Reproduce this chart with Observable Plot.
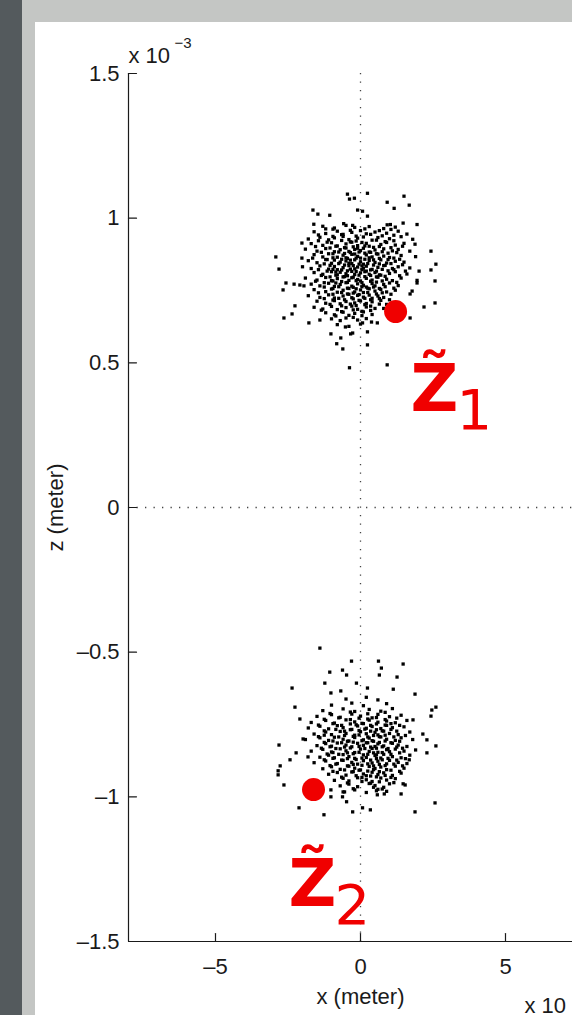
<!DOCTYPE html>
<html>
<head>
<meta charset="utf-8">
<script src="https://cdn.jsdelivr.net/npm/d3@7"></script>
<script src="https://cdn.jsdelivr.net/npm/@observablehq/plot@0.6"></script>
<style>
html, body { margin: 0; padding: 0; overflow: hidden; }
body { width: 572px; height: 1015px; background: #c4c6c4; position: relative; }
#strip { position: absolute; left: 0; top: 0; width: 22px; height: 1015px; background: #545a5d; }
#panel { position: absolute; left: 35px; top: 22px; width: 620px; height: 1000px; background: #ffffff; }
#chart { position: absolute; left: 35px; top: 22px; width: 620px; height: 993px; }
#chart svg { max-width: none !important; width: 597px; height: 993px; }
</style>
</head>
<body>
<div id="strip"></div>
<div id="panel"></div>
<div id="chart"></div>
<script>
// ---- axes ----
const xDomain = [-8, 8];
const zDomain = [-1.5, 1.5];
const xTicks = [-5, 0, 5];
const xTickLabels = ["–5", "0", "5"];
const zTicks = [-1.5, -1, -0.5, 0, 0.5, 1, 1.5];
const zTickLabels = ["–1.5", "–1", "–0.5", "0", "0.5", "1", "1.5"];
const xLabel = "x (meter)";
const zLabel = "z (meter)";
const zExponent = ["x 10", "−3"];
const xExponent = "x 10";

// ---- estimates (red markers) ----
const estimates = [
  {name: "1", x: 1.21, z: 0.677},
  {name: "2", x: -1.62, z: -0.975}
];
// label anchors (left edge / baseline of the "Z")
const estimateLabels = [
  {sub: "1", x: 1.72, z: 0.332},
  {sub: "2", x: -2.48, z: -1.376}
];

// ---- cluster around z = +0.8e-3 ----
const cluster1Outer = [
[-0.45,1.083],[-0.21,1.069],[0.24,1.086],[-0.38,1.066],[1.50,1.076],[0.92,1.055],[1.68,1.045],[1.16,1.034],[0.07,1.024],[-1.64,1.028],[-1.47,1.014],[-1.06,1.010],[0.24,1.007],[-0.10,1.028],[-1.20,0.963],[1.03,0.978],
[-1.61,0.979],[-0.58,0.981],[-0.27,0.975],[0.92,0.977],[1.47,0.983],[1.95,0.978],[-2.02,0.914],[1.88,0.910],[2.43,0.886],[-2.92,0.866],[-2.02,0.862],[2.60,0.841],[-2.81,0.824],[2.43,0.821],[2.02,0.817],
[-2.57,0.776],[-2.29,0.772],[-2.09,0.769],[-1.95,0.766],[-2.67,0.752],[2.57,0.783],[1.95,0.785],[1.78,0.748],[2.19,0.693],[2.57,0.707],[-2.26,0.697],[-2.64,0.655],[-2.36,0.669],[-1.78,0.638],[-1.40,0.648],[1.71,0.655],
[-1.02,0.600],[-0.68,0.586],[-0.82,0.566],[-0.61,0.548],[0.24,0.562],[-0.34,0.600],[0.92,0.493],[-0.38,0.483],[-0.52,0.624],[-0.27,0.603],[0.07,0.638],[0.24,0.607],[0.38,0.641],[0.58,0.638],[1.71,0.738],[1.95,0.776],
[0.9,0.702],[1.0,0.718],[0.8,0.688]
];
const cluster1Core = [
[-1.3,0.972],[-0.9,0.966],[-0.5,0.975],[-0.2,0.968],[0.3,0.971],[0.8,0.964],[1.2,0.969],
[-1.6,0.953],[-1.2,0.947],[-0.8,0.955],[-0.6,0.944],[-0.3,0.951],[0.0,0.957],[0.2,0.946],[0.5,0.952],[0.9,0.948],[1.3,0.955],[1.6,0.945],
[-1.8,0.928],[-1.4,0.934],[-1.1,0.925],[-0.9,0.932],[-0.6,0.937],[-0.4,0.926],[-0.1,0.931],[0.1,0.935],[0.4,0.924],[0.6,0.933],[1.0,0.929],[1.4,0.936],[1.8,0.927],
[-1.7,0.912],[-1.3,0.906],[-1.0,0.915],[-0.8,0.904],[-0.5,0.911],[-0.3,0.917],[-0.1,0.905],[0.2,0.913],[0.3,0.903],[0.7,0.909],[0.9,0.916],[1.2,0.907],[1.5,0.913],
[-1.9,0.893],[-1.5,0.886],[-1.2,0.895],[-0.9,0.884],[-0.7,0.891],[-0.5,0.897],[-0.4,0.885],[-0.2,0.892],[0.0,0.888],[0.1,0.896],[0.3,0.883],[0.5,0.89],[0.8,0.894],[1.1,0.887],[1.3,0.892],[1.7,0.886],
[-1.6,0.874],[-1.3,0.866],[-1.1,0.877],[-0.8,0.865],[-0.6,0.872],[-0.5,0.863],[-0.3,0.875],[-0.1,0.868],[0.0,0.862],[0.2,0.873],[0.4,0.866],[0.6,0.876],[0.8,0.869],[1.0,0.864],[1.4,0.871],[1.9,0.867],
[-1.8,0.853],[-1.5,0.846],[-1.2,0.857],[-1.0,0.844],[-0.9,0.855],[-0.7,0.848],[-0.5,0.852],[-0.3,0.843],[-0.2,0.856],[0.0,0.849],[0.1,0.841],[0.3,0.854],[0.5,0.847],[0.7,0.856],[0.9,0.845],[1.2,0.851],[1.5,0.848],
[-2.0,0.832],[-1.7,0.826],[-1.4,0.835],[-1.1,0.824],[-0.9,0.833],[-0.8,0.822],[-0.6,0.829],[-0.4,0.836],[-0.2,0.825],[-0.1,0.831],[0.1,0.827],[0.2,0.834],[0.4,0.823],[0.6,0.83],[0.8,0.836],[1.1,0.826],[1.3,0.832],[1.7,0.828],
[-1.6,0.812],[-1.3,0.806],[-1.0,0.815],[-0.8,0.804],[-0.7,0.813],[-0.5,0.808],[-0.3,0.816],[-0.2,0.805],[0.0,0.811],[0.2,0.817],[0.3,0.806],[0.5,0.812],[0.7,0.803],[1.0,0.809],[1.2,0.815],[1.6,0.807],
[-1.9,0.793],[-1.5,0.786],[-1.2,0.795],[-1.0,0.784],[-0.8,0.791],[-0.6,0.797],[-0.4,0.785],[-0.3,0.794],[-0.1,0.788],[0.0,0.783],[0.2,0.792],[0.4,0.786],[0.6,0.796],[0.9,0.789],[1.1,0.784],[1.4,0.793],
[-1.7,0.772],[-1.4,0.766],[-1.1,0.775],[-0.9,0.764],[-0.7,0.771],[-0.5,0.777],[-0.3,0.765],[-0.1,0.773],[0.1,0.768],[0.2,0.762],[0.4,0.774],[0.5,0.766],[0.8,0.771],[1.0,0.776],[1.3,0.767],
[-1.6,0.753],[-1.2,0.746],[-1.0,0.755],[-0.8,0.744],[-0.6,0.751],[-0.4,0.757],[-0.2,0.745],[0.0,0.752],[0.1,0.743],[0.3,0.756],[0.5,0.748],[0.7,0.754],[0.9,0.745],[1.2,0.751],
[-1.8,0.732],[-1.4,0.726],[-1.1,0.735],[-0.9,0.724],[-0.6,0.731],[-0.4,0.737],[-0.3,0.725],[-0.1,0.733],[0.1,0.727],[0.3,0.734],[0.4,0.723],[0.6,0.731],[0.8,0.726],
[-1.5,0.713],[-1.2,0.706],[-0.9,0.715],[-0.7,0.704],[-0.5,0.712],[-0.2,0.707],[0.0,0.714],[0.2,0.705],[0.4,0.711],[0.7,0.716],
[-1.6,0.692],[-1.3,0.686],[-1.0,0.695],[-0.8,0.684],[-0.5,0.691],[-0.3,0.696],[-0.1,0.685],[0.2,0.693],[0.5,0.688],
[-1.2,0.673],[-0.9,0.666],[-0.6,0.675],[-0.4,0.664],[-0.2,0.671],[0.1,0.676],[0.4,0.667],
[-1.0,0.652],[-0.7,0.646],[-0.5,0.655],[-0.1,0.648],[0.2,0.653],
[-0.8,0.632],[-0.4,0.626],[0.0,0.634],
[-0.95,0.962],[-0.35,0.958],[0.15,0.963],[0.65,0.957],[1.05,0.961],
[-1.45,0.942],[-0.95,0.937],[-0.65,0.943],[-0.15,0.938],[0.35,0.944],[0.75,0.939],[1.15,0.941],
[-1.45,0.922],[-1.15,0.917],[-0.65,0.923],[-0.35,0.918],[-0.15,0.921],[0.05,0.916],[0.55,0.924],[0.85,0.919],[1.15,0.922],
[-1.55,0.902],[-1.05,0.897],[-0.85,0.903],[-0.55,0.898],[-0.25,0.901],[-0.1,0.896],[0.15,0.904],[0.45,0.899],[0.65,0.902],[1.05,0.898],[1.45,0.903],
[-1.35,0.882],[-0.95,0.877],[-0.75,0.883],[-0.55,0.878],[-0.35,0.881],[-0.2,0.876],[-0.05,0.883],[0.15,0.879],[0.35,0.882],[0.55,0.877],[0.75,0.884],[0.95,0.879],[1.25,0.881],
[-1.65,0.862],[-1.15,0.857],[-0.95,0.863],[-0.65,0.858],[-0.45,0.861],[-0.35,0.855],[-0.15,0.862],[0.15,0.858],[0.3,0.863],[0.45,0.856],[0.65,0.861],[0.95,0.857],[1.15,0.862],[1.35,0.858],
[-1.25,0.842],[-1.05,0.837],[-0.75,0.843],[-0.55,0.838],[-0.4,0.844],[-0.25,0.836],[-0.05,0.841],[0.05,0.835],[0.25,0.843],[0.45,0.838],[0.65,0.842],[0.85,0.837],[1.05,0.843],[1.45,0.839],
[-1.45,0.822],[-1.15,0.817],[-0.95,0.823],[-0.85,0.814],[-0.65,0.821],[-0.45,0.818],[-0.35,0.824],[-0.15,0.816],[0.05,0.822],[0.15,0.815],[0.35,0.821],[0.55,0.817],[0.75,0.823],[0.95,0.818],[1.15,0.822],[1.55,0.817],
[-1.35,0.802],[-1.05,0.797],[-0.85,0.803],[-0.55,0.798],[-0.45,0.801],[-0.25,0.796],[-0.05,0.803],[0.15,0.798],[0.35,0.802],[0.55,0.797],[0.65,0.804],[0.85,0.799],[1.35,0.801],
[-1.55,0.782],[-1.25,0.777],[-0.95,0.783],[-0.85,0.776],[-0.65,0.781],[-0.45,0.778],[-0.15,0.784],[0.05,0.777],[0.35,0.782],[0.55,0.779],[0.75,0.783],[1.25,0.778],
[-1.25,0.762],[-0.95,0.757],[-0.75,0.763],[-0.45,0.758],[-0.25,0.761],[-0.15,0.756],[0.05,0.763],[0.25,0.758],[0.45,0.762],[0.65,0.757],[0.85,0.763],[1.15,0.758],
[-1.45,0.742],[-0.95,0.737],[-0.65,0.743],[-0.45,0.738],[-0.25,0.741],[-0.05,0.736],[0.25,0.743],[0.55,0.738],[0.75,0.742],[1.05,0.737],
[-1.25,0.722],[-0.95,0.717],[-0.75,0.723],[-0.55,0.718],[-0.25,0.721],[-0.05,0.716],[0.15,0.723],[0.35,0.718],[0.65,0.722],
[-1.05,0.702],[-0.65,0.697],[-0.35,0.703],[-0.15,0.698],[0.15,0.701],[0.35,0.696],[0.65,0.703],
[-1.35,0.682],[-0.65,0.677],[-0.25,0.683],[0.05,0.678],[0.35,0.681],
[-0.85,0.662],[-0.25,0.657],[0.05,0.663]
];

// ---- cluster around z = -0.8e-3 ----
const cluster2Outer = [
[-1.40,-0.486],[-0.31,-0.531],[-0.62,-0.562],[-0.48,-0.579],[-1.06,-0.569],[0.62,-0.531],[0.72,-0.555],[1.47,-0.541],[0.65,-0.579],[1.26,-0.586],[-1.23,-0.607],[-2.36,-0.624],[-0.14,-0.607],[0.24,-0.624],[1.13,-0.628],[1.88,-0.645],[-1.02,-0.641],[-0.68,-0.634],
[-2.26,-0.690],[2.46,-0.700],[2.60,-0.690],[2.43,-0.721],[-2.09,-0.731],[1.81,-0.734],[2.15,-0.783],[2.29,-0.803],[2.60,-0.824],[-2.81,-0.821],[-1.98,-0.800],[-2.43,-0.872],[-2.77,-0.893],[-2.84,-0.924],[-2.64,-0.959],[-2.22,-0.848],[-1.81,-0.862],
[2.29,-0.848],[1.68,-0.872],[1.54,-0.959],[1.40,-0.990],[2.57,-1.021],[1.88,-1.052],[-2.12,-1.038],[-1.26,-1.062],[-0.27,-1.052],[-1.02,-1.000],[-0.62,-1.000],[-0.48,-1.017],[0.34,-1.045],[0.58,-0.993],[0.82,-0.990],[0.07,-1.038],
[-2.84,-0.910],[-1.02,-0.976],[-0.55,-0.983],[0.55,-0.979],[1.47,-0.955]
];
const cluster2Core = [
[-0.5,-0.662],[0.2,-0.656],[0.6,-0.665],
[-1.0,-0.683],[-0.3,-0.676],[0.1,-0.685],[0.9,-0.678],
[-1.3,-0.702],[-0.6,-0.696],[-0.2,-0.705],[0.3,-0.698],[0.7,-0.704],[1.1,-0.695],
[-1.5,-0.722],[-1.0,-0.716],[-0.7,-0.725],[-0.3,-0.714],[0.0,-0.721],[0.4,-0.727],[0.6,-0.715],[1.0,-0.723],[1.4,-0.718],
[-1.7,-0.743],[-1.2,-0.736],[-0.9,-0.745],[-0.5,-0.734],[-0.2,-0.741],[0.1,-0.747],[0.3,-0.735],[0.6,-0.742],[0.9,-0.738],[1.2,-0.744],[1.6,-0.736],
[-1.8,-0.762],[-1.4,-0.756],[-1.1,-0.765],[-0.8,-0.754],[-0.6,-0.761],[-0.3,-0.767],[-0.1,-0.755],[0.2,-0.763],[0.4,-0.757],[0.7,-0.764],[0.9,-0.753],[1.1,-0.761],[1.5,-0.758],
[-1.6,-0.783],[-1.2,-0.776],[-1.0,-0.785],[-0.7,-0.774],[-0.5,-0.781],[-0.2,-0.787],[0.0,-0.775],[0.2,-0.782],[0.5,-0.777],[0.6,-0.786],[0.8,-0.773],[1.0,-0.781],[1.3,-0.785],[1.7,-0.776],
[-1.9,-0.802],[-1.4,-0.796],[-1.1,-0.805],[-0.9,-0.794],[-0.6,-0.801],[-0.4,-0.807],[-0.2,-0.795],[0.1,-0.803],[0.3,-0.797],[0.4,-0.806],[0.7,-0.793],[0.9,-0.801],[1.2,-0.805],[1.4,-0.796],[1.8,-0.802],
[-1.5,-0.823],[-1.2,-0.816],[-1.0,-0.825],[-0.8,-0.814],[-0.5,-0.821],[-0.3,-0.827],[-0.1,-0.815],[0.1,-0.822],[0.2,-0.813],[0.5,-0.826],[0.6,-0.817],[0.8,-0.824],[1.1,-0.815],[1.3,-0.821],[1.6,-0.826],
[-1.7,-0.842],[-1.3,-0.836],[-1.0,-0.845],[-0.7,-0.834],[-0.5,-0.841],[-0.2,-0.847],[0.0,-0.835],[0.3,-0.843],[0.4,-0.833],[0.6,-0.846],[0.9,-0.837],[1.0,-0.844],[1.2,-0.835],[1.5,-0.842],[1.9,-0.838],
[-1.4,-0.863],[-1.1,-0.856],[-0.9,-0.865],[-0.6,-0.854],[-0.4,-0.861],[-0.2,-0.867],[0.1,-0.855],[0.2,-0.864],[0.5,-0.857],[0.7,-0.866],[0.8,-0.853],[1.1,-0.861],[1.4,-0.865],[1.7,-0.856],
[-1.6,-0.882],[-1.2,-0.876],[-0.8,-0.885],[-0.6,-0.874],[-0.3,-0.881],[-0.1,-0.887],[0.1,-0.875],[0.4,-0.883],[0.6,-0.877],[0.9,-0.886],[1.0,-0.874],[1.3,-0.881],[1.6,-0.885],
[-1.3,-0.903],[-1.0,-0.896],[-0.7,-0.905],[-0.4,-0.894],[-0.2,-0.901],[0.0,-0.907],[0.3,-0.895],[0.5,-0.902],[0.7,-0.897],[0.9,-0.906],[1.2,-0.894],[1.5,-0.901],
[-1.1,-0.922],[-0.8,-0.916],[-0.5,-0.925],[-0.3,-0.914],[0.1,-0.921],[0.2,-0.927],[0.4,-0.915],[0.6,-0.923],[0.8,-0.917],[1.1,-0.926],[1.4,-0.918],
[-0.9,-0.943],[-0.6,-0.936],[-0.4,-0.945],[-0.1,-0.934],[0.2,-0.941],[0.4,-0.947],[0.7,-0.935],[0.9,-0.942],[1.2,-0.937],
[-0.7,-0.962],[-0.4,-0.956],[-0.1,-0.965],[0.3,-0.954],[0.5,-0.961],[0.8,-0.967],[1.0,-0.955],
[-0.6,-0.983],[-0.2,-0.976],[0.2,-0.985],[0.6,-0.974],[0.9,-0.981],
[-1.05,-0.712],[-0.35,-0.707],[0.25,-0.713],[0.85,-0.708],
[-1.25,-0.732],[-0.75,-0.727],[-0.35,-0.733],[-0.05,-0.728],[0.25,-0.731],[0.55,-0.726],[0.85,-0.733],[1.25,-0.728],
[-1.45,-0.752],[-0.95,-0.747],[-0.65,-0.753],[-0.35,-0.748],[-0.15,-0.751],[0.05,-0.746],[0.35,-0.753],[0.55,-0.748],[0.85,-0.752],[1.05,-0.747],[1.35,-0.753],
[-1.25,-0.772],[-0.85,-0.767],[-0.55,-0.773],[-0.35,-0.768],[-0.05,-0.771],[0.15,-0.766],[0.35,-0.773],[0.55,-0.768],[0.75,-0.772],[1.05,-0.767],[1.25,-0.773],
[-1.45,-0.792],[-1.25,-0.787],[-0.75,-0.793],[-0.55,-0.788],[-0.25,-0.791],[-0.05,-0.786],[0.25,-0.793],[0.45,-0.788],[0.65,-0.792],[0.85,-0.787],[1.15,-0.793],[1.55,-0.788],
[-1.25,-0.812],[-0.95,-0.807],[-0.65,-0.813],[-0.45,-0.808],[-0.25,-0.811],[0.05,-0.806],[0.25,-0.813],[0.45,-0.808],[0.65,-0.812],[0.85,-0.807],[1.05,-0.813],[1.35,-0.808],
[-1.35,-0.832],[-1.05,-0.827],[-0.85,-0.833],[-0.55,-0.828],[-0.35,-0.831],[-0.05,-0.826],[0.15,-0.833],[0.35,-0.828],[0.55,-0.832],[0.75,-0.827],[0.95,-0.833],[1.25,-0.828],[1.45,-0.832],
[-1.15,-0.852],[-0.95,-0.847],[-0.75,-0.853],[-0.45,-0.848],[-0.25,-0.851],[-0.05,-0.846],[0.25,-0.853],[0.45,-0.848],[0.55,-0.855],[0.75,-0.847],[1.05,-0.853],[1.35,-0.848],
[-1.25,-0.872],[-0.95,-0.867],[-0.65,-0.873],[-0.45,-0.868],[-0.15,-0.871],[0.05,-0.866],[0.35,-0.873],[0.55,-0.868],[0.75,-0.872],[0.95,-0.867],[1.25,-0.873],[1.55,-0.868],
[-1.05,-0.892],[-0.85,-0.887],[-0.45,-0.893],[-0.25,-0.888],[0.05,-0.891],[0.25,-0.886],[0.45,-0.893],[0.65,-0.888],[0.85,-0.892],[1.15,-0.887],[1.45,-0.893],
[-0.95,-0.912],[-0.55,-0.907],[-0.25,-0.913],[-0.05,-0.908],[0.25,-0.911],[0.45,-0.906],[0.65,-0.913],[1.05,-0.908],[1.35,-0.912],
[-0.65,-0.932],[-0.15,-0.927],[0.05,-0.933],[0.35,-0.928],[0.55,-0.931],[0.85,-0.926],[1.05,-0.933],
[-0.45,-0.952],[0.05,-0.947],[0.35,-0.953],[0.65,-0.948],[1.15,-0.951],
[-0.25,-0.972],[0.45,-0.967],[0.75,-0.973]
];

const samples = [...cluster1Outer, ...cluster1Core, ...cluster2Outer, ...cluster2Core];

const red = "#f00000";
const ink = "#1a1a1a";
const tickShape = { draw(context, l) { context.moveTo(0, 0); context.lineTo(0, -l); } };

const chart = Plot.plot({
  width: 597,
  height: 993,
  marginLeft: 93,
  marginRight: 40,
  marginTop: 51,
  marginBottom: 74,
  x: {domain: xDomain},
  y: {domain: zDomain},
  style: {fontFamily: "'Liberation Sans', Arial, sans-serif", fontSize: "22px", color: ink, background: "transparent", overflow: "visible", maxWidth: "none"},
  marks: [
    Plot.ruleX([0], {stroke: "#444", strokeWidth: 1.3, strokeDasharray: "1.3,7.2"}),
    Plot.ruleY([0], {stroke: "#444", strokeWidth: 1.3, strokeDasharray: "1.3,7.2"}),
    Plot.dot(samples, {x: d => d[0], y: d => d[1], symbol: "square", r: 1.85, fill: "#000", stroke: null}),
    Plot.ruleX([xDomain[0]], {stroke: ink, strokeWidth: 1.2}),
    Plot.ruleY([zDomain[0]], {stroke: ink, strokeWidth: 1.2}),
    Plot.vector(xTicks, {x: d => d, frameAnchor: "bottom", length: 8, anchor: "start", shape: tickShape, stroke: ink, strokeWidth: 1.2}),
    Plot.vector(zTicks, {y: d => d, frameAnchor: "left", length: 8, rotate: 90, anchor: "start", shape: tickShape, stroke: ink, strokeWidth: 1.2}),
    Plot.axisX({ticks: xTicks, tickSize: 0, tickPadding: 17, tickFormat: d => xTickLabels[xTicks.indexOf(d)], label: null, fontSize: 22}),
    Plot.axisY({ticks: zTicks, tickSize: 0, tickPadding: 9, tickFormat: d => zTickLabels[zTicks.indexOf(d)], label: null, fontSize: 22}),
    Plot.text([xLabel], {frameAnchor: "bottom", textAnchor: "middle", lineAnchor: "bottom", dy: 62, text: d => d, fontSize: 22}),
    Plot.text([zLabel], {frameAnchor: "left", textAnchor: "middle", lineAnchor: "bottom", rotate: -90, dx: -66, text: d => d, fontSize: 22}),
    Plot.text([zExponent[0]], {frameAnchor: "top-left", textAnchor: "start", lineAnchor: "bottom", dy: -11, text: d => d, fontSize: 22}),
    Plot.text([zExponent[1]], {frameAnchor: "top-left", textAnchor: "start", lineAnchor: "bottom", dx: 46, dy: -26, text: d => d, fontSize: 15}),
    Plot.text([xExponent], {frameAnchor: "bottom-right", textAnchor: "start", lineAnchor: "bottom", dx: -68, dy: 71, text: d => d, fontSize: 22}),
    Plot.dot(estimates, {x: "x", y: "z", r: 11.5, fill: red, stroke: null}),
    Plot.text(estimateLabels, {x: "x", y: "z", text: () => "Z\u0303", fontFamily: "'DejaVu Sans', sans-serif", fontWeight: "bold", fontSize: 66, fill: red, textAnchor: "start", lineAnchor: "bottom"}),
    Plot.text(estimateLabels, {x: "x", y: "z", text: "sub", fontFamily: "'DejaVu Sans', sans-serif", fontSize: 56, fill: red, textAnchor: "start", lineAnchor: "bottom", dx: 46, dy: 18})
  ]
});
document.getElementById("chart").appendChild(chart);
</script>
</body>
</html>
